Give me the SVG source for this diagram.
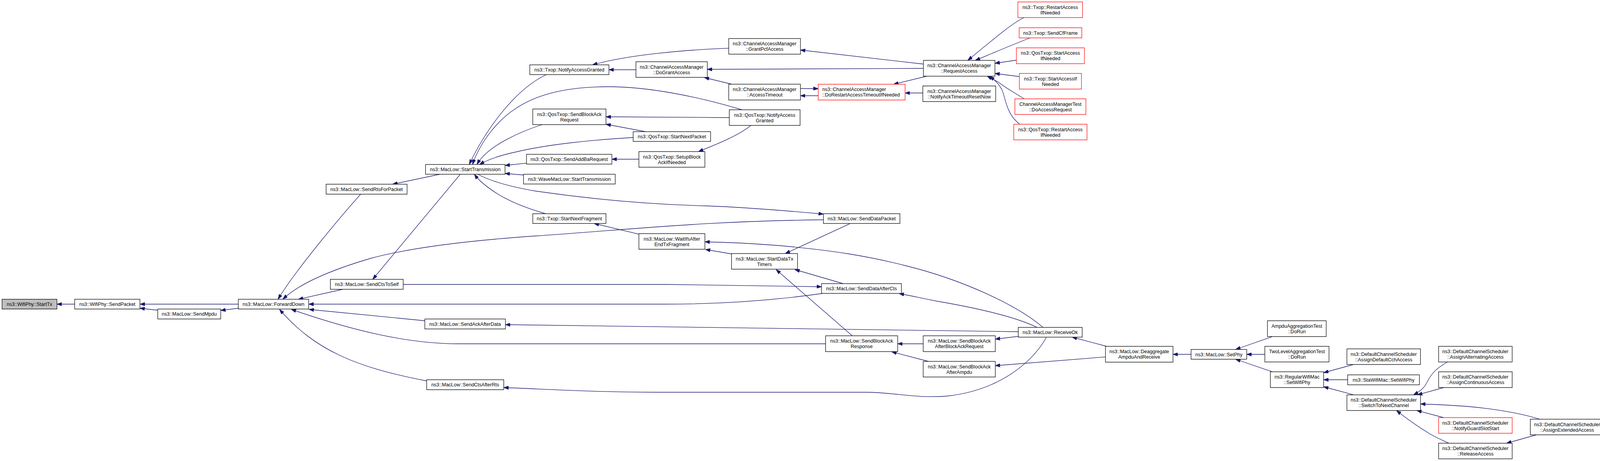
<svg xmlns="http://www.w3.org/2000/svg" width="4344" height="1180" viewBox="0 0 4344 1180">
<style>
.n rect{fill:#fff;stroke:#000;stroke-width:1.3}
.n.r rect{stroke:#f00}
.n.g rect{fill:#bfbfbf}
text{font-family:"Liberation Sans",Arial,sans-serif;font-size:13.2px;text-anchor:middle;fill:#000}
text.l{text-anchor:start}
#edges path{fill:none;stroke:#191970;stroke-width:1.3;marker-end:url(#a)}
</style>
<defs>
<marker id="a" markerUnits="userSpaceOnUse" viewBox="0 0 13 9" markerWidth="13" markerHeight="9" refX="13" refY="4.5" orient="auto">
<path d="M0,0 L13,4.5 L0,9 z" fill="#191970" stroke="#191970" stroke-width="1"/>
</marker>
</defs>
<rect width="4344" height="1180" fill="#fff"/>
<g id="graph" transform="scale(0.9465,1)">
<g id="edges">
<path d="M202,778.5 L154,778.5"/>
<path d="M644.5,778.5 L378.6,778.5"/>
<path d="M426.6,794 L378.6,789"/>
<path d="M644.5,789 L597,794.5"/>
<path d="M975.6,497 C930,545 800,690 752,766"/>
<path d="M1190,446 L1062,471.5"/>
<path d="M1245,446 L1008,715"/>
<path d="M927,740.5 L807,766"/>
<path d="M2227,562.5 C1900,566 1700,588 1448,604 C1250,617 1100,636 1000,662 C900,690 810,725 765,766"/>
<path d="M2225,751 C2100,768 1950,778.5 1800,778.5 L835,778.5"/>
<path d="M1149,821 L836,792"/>
<path d="M2233,880 L1240,880 C1100,880 950,845 788,792"/>
<path d="M1154,975 C960,940 850,895 756,792"/>
<path d="M1090.6,728 L1800,728 C1950,729 2100,731 2222,734"/>
<path d="M2754,849 L1367,831"/>
<path d="M2830,864 C2790,930 2700,1000 2560,1014 C2470,1020 2420,1004 2340,1004 L1780,1004 C1600,1004 1480,996 1362.5,992"/>
<path d="M2821,838 C2750,780 2600,715 2449,680 C2350,656 2250,640 2100,628 C2030,623 1960,620 1906.5,619"/>
<path d="M2805,838 C2740,808 2620,785 2541,772 C2500,765 2465,757 2432,751.5"/>
<path d="M2299,572.3 L2124,649"/>
<path d="M2280.5,726 L2150,690"/>
<path d="M2304.5,859 L2099,690"/>
<path d="M1978.5,650 L1908,638.5"/>
<path d="M1728,599.4 L1607,572"/>
<path d="M2990,913.6 L2692,936"/>
<path d="M2993,886.5 L2900,863"/>
<path d="M2754,861 L2692,868"/>
<path d="M2497,880 L2428,880"/>
<path d="M2511,925 L2412,900.5"/>
<path d="M3221.5,907 L3172.6,907"/>
<path d="M3441,861.7 L3342,894.5"/>
<path d="M3421,907 L3372,907"/>
<path d="M3441,951.6 L3342,919.5"/>
<path d="M3660.6,933 L3580,954"/>
<path d="M3645,972 L3580,972"/>
<path d="M3661.5,1010.7 L3580,990"/>
<path d="M3914,927 C3885,943 3872,955 3860,978 C3850,996 3840,1002 3823,1010.7"/>
<path d="M3905,992 L3834,1010.7"/>
<path d="M4165,1073 C4120,1060 4060,1048 3966,1040 C3920,1037 3880,1035 3842,1034"/>
<path d="M3905,1069 L3832,1050.7"/>
<path d="M3918.7,1134.5 C3895,1124 3880,1118 3864.7,1109 C3830,1089 3800,1068 3777,1050.7"/>
<path d="M4155.6,1113 L4074.8,1134.5"/>
<path d="M2770,45 C2740,58 2700,90 2617.5,154.5"/>
<path d="M2786,97 C2750,110 2700,130 2638,154.5"/>
<path d="M2749,154 L2691,162"/>
<path d="M2757,196 L2691,188"/>
<path d="M2770,253 C2740,235 2720,225 2700,210 C2690,205 2680,200 2670,195"/>
<path d="M2758,318 C2720,290 2720,250 2710,230 C2700,212 2690,205 2677,195"/>
<path d="M2497.5,164 L2165,128"/>
<path d="M2497.5,175 L1913,177.5"/>
<path d="M2507,195 L2417,215.6"/>
<path d="M2496,238 L2448,238"/>
<path d="M2165,226.5 L2213,227"/>
<path d="M2213,245 L2165,245"/>
<path d="M1979,215.5 L1905,198.5"/>
<path d="M1971,123.4 C1850,128 1700,140 1602.7,166"/>
<path d="M1720,178.5 L1647,178.5"/>
<path d="M1972.5,301 L1639,299"/>
<path d="M1746,337 L1639,318"/>
<path d="M2031,321 C2000,345 1950,365 1889,388"/>
<path d="M1728,407.5 L1655,407.5"/>
<path d="M1478,191 C1400,225 1320,320 1269,421"/>
<path d="M2007,281 C1880,245 1750,222 1646,222 C1530,222 1450,242 1393,279 C1350,305 1300,360 1278,421"/>
<path d="M1466.5,319 C1420,333 1320,370 1290,421"/>
<path d="M1712.5,352 C1600,358 1480,370 1400,388 C1350,398 1320,408 1297,421"/>
<path d="M1424,417.7 L1366,423.5"/>
<path d="M1416,448 L1366,444"/>
<path d="M1475.7,547 C1440,537 1390,522 1347,497 C1315,478 1295,462 1283,446"/>
<path d="M1292,446 C1330,465 1380,478 1448,489 C1600,510 1750,523 1910,527 C2000,530 2100,537 2227,548"/>
</g>
<g id="StartTx" class="n g"><rect x="5.5" y="766" width="148.5" height="25"/><text x="79.75" y="783.2">ns3::WifiPhy::StartTx</text></g>
<g id="SendPacket" class="n"><rect x="202" y="766" width="176.6" height="25"/><text x="290.3" y="783.2">ns3::WifiPhy::SendPacket</text></g>
<g id="SendMpdu" class="n"><rect x="426.6" y="791" width="170.4" height="25.5"/><text x="511.8" y="808.4">ns3::MacLow::SendMpdu</text></g>
<g id="ForwardDown" class="n"><rect x="644.5" y="766" width="190.5" height="25"/><text x="739.75" y="783.2">ns3::MacLow::ForwardDown</text></g>
<g id="SendRtsForPacket" class="n"><rect x="882" y="471.5" width="219" height="25.5"/><text x="991.5" y="489">ns3::MacLow::SendRtsForPacket</text></g>
<g id="SendCtsToSelf" class="n"><rect x="893.5" y="715" width="197" height="25.5"/><text x="992" y="732.5">ns3::MacLow::SendCtsToSelf</text></g>
<g id="SendAckAfterData" class="n"><rect x="1149" y="816.5" width="218" height="25.5"/><text x="1258" y="834">ns3::MacLow::SendAckAfterData</text></g>
<g id="SendCtsAfterRts" class="n"><rect x="1154" y="972" width="208.5" height="25.5"/><text x="1258.25" y="989.5">ns3::MacLow::SendCtsAfterRts</text></g>
<g id="StartTransmission" class="n"><rect x="1151" y="421" width="215" height="25"/><text x="1258.5" y="438.2">ns3::MacLow::StartTransmission</text></g>
<g id="TxopNotifyAccessGranted" class="n"><rect x="1433" y="166" width="214" height="25"/><text x="1540" y="183.2">ns3::Txop::NotifyAccessGranted</text></g>
<g id="SendBlockAckRequest" class="n"><rect x="1441" y="279" width="198" height="40"/><text x="1540" y="296.7">ns3::QosTxop::SendBlockAck</text><text x="1540" y="310.7">Request</text></g>
<g id="SendAddBaRequest" class="n"><rect x="1424" y="395" width="231" height="25"/><text x="1539.5" y="412.2">ns3::QosTxop::SendAddBaRequest</text></g>
<g id="WaveStartTransmission" class="n"><rect x="1416" y="446" width="248" height="25"/><text x="1540" y="463.2">ns3::WaveMacLow::StartTransmission</text></g>
<g id="StartNextFragment" class="n"><rect x="1441" y="547" width="198" height="25"/><text x="1540" y="564.2">ns3::Txop::StartNextFragment</text></g>
<g id="DoGrantAccess" class="n"><rect x="1720" y="158" width="193" height="40"/><text x="1816.5" y="175.7">ns3::ChannelAccessManager</text><text x="1816.5" y="189.7">::DoGrantAccess</text></g>
<g id="StartNextPacket" class="n"><rect x="1712.5" y="337" width="209.5" height="25"/><text x="1817.25" y="354.2">ns3::QosTxop::StartNextPacket</text></g>
<g id="SetupBlockAckIfNeeded" class="n"><rect x="1728" y="388" width="178.5" height="40"/><text x="1817.25" y="405.7">ns3::QosTxop::SetupBlock</text><text x="1817.25" y="419.7">AckIfNeeded</text></g>
<g id="WaitIfsAfterEndTxFragment" class="n"><rect x="1728" y="598" width="178.5" height="40"/><text x="1817.25" y="615.7">ns3::MacLow::WaitIfsAfter</text><text x="1817.25" y="629.7">EndTxFragment</text></g>
<g id="GrantPcfAccess" class="n"><rect x="1971" y="98.6" width="194" height="40"/><text x="2068" y="116.3">ns3::ChannelAccessManager</text><text x="2068" y="130.3">::GrantPcfAccess</text></g>
<g id="AccessTimeout" class="n"><rect x="1971" y="215.5" width="194" height="40.5"/><text x="2068" y="233.4">ns3::ChannelAccessManager</text><text x="2068" y="247.4">::AccessTimeout</text></g>
<g id="QosNotifyAccessGranted" class="n"><rect x="1972.5" y="281" width="191.5" height="40"/><text x="2068.25" y="298.7">ns3::QosTxop::NotifyAccess</text><text x="2068.25" y="312.7">Granted</text></g>
<g id="StartDataTxTimers" class="n"><rect x="1978.5" y="649" width="178.5" height="40"/><text x="2067.75" y="666.7">ns3::MacLow::StartDataTx</text><text x="2067.75" y="680.7">Timers</text></g>
<g id="DoRestartAccessTimeoutIfNeeded" class="n r"><rect x="2213" y="215.6" width="235" height="40.4"/><text class="l" x="2224" y="233.5">ns3::ChannelAccessManager</text><text class="l" x="2224" y="247.5">::DoRestartAccessTimeoutIfNeeded</text></g>
<g id="NotifyAckTimeoutResetNow" class="n"><rect x="2496" y="220" width="197" height="40"/><text x="2594.5" y="237.7">ns3::ChannelAccessManager</text><text x="2594.5" y="251.7">::NotifyAckTimeoutResetNow</text></g>
<g id="RequestAccess" class="n"><rect x="2497.5" y="154.5" width="193.5" height="40.5"/><text x="2594.25" y="172.4">ns3::ChannelAccessManager</text><text x="2594.25" y="186.4">::RequestAccess</text></g>
<g id="SendDataPacket" class="n"><rect x="2227" y="547" width="207" height="25"/><text x="2330.5" y="564.2">ns3::MacLow::SendDataPacket</text></g>
<g id="SendDataAfterCts" class="n"><rect x="2222" y="726" width="216" height="25"/><text x="2330" y="743.2">ns3::MacLow::SendDataAfterCts</text></g>
<g id="SendBlockAckResponse" class="n"><rect x="2233" y="859.5" width="195" height="40.5"/><text x="2330.5" y="877.4">ns3::MacLow::SendBlockAck</text><text x="2330.5" y="891.4">Response</text></g>
<g id="SendBlockAckAfterBlockAckRequest" class="n"><rect x="2497" y="859.5" width="195" height="40.5"/><text x="2594.5" y="877.4">ns3::MacLow::SendBlockAck</text><text x="2594.5" y="891.4">AfterBlockAckRequest</text></g>
<g id="SendBlockAckAfterAmpdu" class="n"><rect x="2497" y="925" width="195" height="40"/><text x="2594.5" y="942.7">ns3::MacLow::SendBlockAck</text><text x="2594.5" y="956.7">AfterAmpdu</text></g>
<g id="ReceiveOk" class="n"><rect x="2754" y="838" width="173" height="25"/><text x="2840.5" y="855.2">ns3::MacLow::ReceiveOk</text></g>
<g id="TxopRestartAccessIfNeeded" class="n r"><rect x="2753" y="5" width="175" height="40"/><text x="2840.5" y="22.7">ns3::Txop::RestartAccess</text><text x="2840.5" y="36.7">IfNeeded</text></g>
<g id="TxopSendCfFrame" class="n r"><rect x="2756.5" y="71" width="169.5" height="26"/><text x="2841.25" y="88.7">ns3::Txop::SendCfFrame</text></g>
<g id="QosStartAccessIfNeeded" class="n r"><rect x="2749" y="122.5" width="184" height="40.5"/><text x="2841" y="140.4">ns3::QosTxop::StartAccess</text><text x="2841" y="154.4">IfNeeded</text></g>
<g id="TxopStartAccessIfNeeded" class="n r"><rect x="2757" y="188" width="168" height="40"/><text x="2841" y="205.7">ns3::Txop::StartAccessIf</text><text x="2841" y="219.7">Needed</text></g>
<g id="DoAccessRequest" class="n r"><rect x="2745" y="253" width="192" height="40"/><text x="2841" y="270.7">ChannelAccessManagerTest</text><text x="2841" y="284.7">::DoAccessRequest</text></g>
<g id="QosRestartAccessIfNeeded" class="n r"><rect x="2742" y="318" width="198" height="40"/><text x="2841" y="335.7">ns3::QosTxop::RestartAccess</text><text x="2841" y="349.7">IfNeeded</text></g>
<g id="DeaggregateAmpduAndReceive" class="n"><rect x="2990" y="886.5" width="182.6" height="40.5"/><text x="3081.3" y="904.4">ns3::MacLow::Deaggregate</text><text x="3081.3" y="918.4">AmpduAndReceive</text></g>
<g id="SetPhy" class="n"><rect x="3221.5" y="894.5" width="150.5" height="25"/><text x="3296.75" y="911.7">ns3::MacLow::SetPhy</text></g>
<g id="AmpduAggregationTest" class="n"><rect x="3428" y="821" width="159" height="40.5"/><text x="3507.5" y="838.9">AmpduAggregationTest</text><text x="3507.5" y="852.9">::DoRun</text></g>
<g id="TwoLevelAggregationTest" class="n"><rect x="3421" y="886.5" width="173.6" height="40"/><text x="3507.8" y="904.2">TwoLevelAggregationTest</text><text x="3507.8" y="918.2">::DoRun</text></g>
<g id="RegularWifiMacSetWifiPhy" class="n"><rect x="3436" y="951.6" width="144" height="40.4"/><text x="3508" y="969.5">ns3::RegularWifiMac</text><text x="3508" y="983.5">::SetWifiPhy</text></g>
<g id="AssignDefaultCchAccess" class="n"><rect x="3643" y="893" width="199" height="40"/><text x="3742.5" y="910.7">ns3::DefaultChannelScheduler</text><text x="3742.5" y="924.7">::AssignDefaultCchAccess</text></g>
<g id="StaWifiMacSetWifiPhy" class="n"><rect x="3645" y="959.5" width="194" height="25.5"/><text x="3742" y="977">ns3::StaWifiMac::SetWifiPhy</text></g>
<g id="SwitchToNextChannel" class="n"><rect x="3643" y="1010.7" width="199" height="40"/><text x="3742.5" y="1028.4">ns3::DefaultChannelScheduler</text><text x="3742.5" y="1042.4">::SwitchToNextChannel</text></g>
<g id="AssignAlternatingAccess" class="n"><rect x="3891" y="886.5" width="199" height="40"/><text x="3990.5" y="904.2">ns3::DefaultChannelScheduler</text><text x="3990.5" y="918.2">::AssignAlternatingAccess</text></g>
<g id="AssignContinuousAccess" class="n"><rect x="3891" y="951.6" width="199" height="40.4"/><text x="3990.5" y="969.5">ns3::DefaultChannelScheduler</text><text x="3990.5" y="983.5">::AssignContinuousAccess</text></g>
<g id="NotifyGuardSlotStart" class="n r"><rect x="3891" y="1069" width="199" height="40"/><text x="3990.5" y="1086.7">ns3::DefaultChannelScheduler</text><text x="3990.5" y="1100.7">::NotifyGuardSlotStart</text></g>
<g id="ReleaseAccess" class="n"><rect x="3891" y="1134.5" width="199" height="40"/><text x="3990.5" y="1152.2">ns3::DefaultChannelScheduler</text><text x="3990.5" y="1166.2">::ReleaseAccess</text></g>
<g id="AssignExtendedAccess" class="n"><rect x="4139" y="1073" width="199" height="40"/><text x="4238.5" y="1090.7">ns3::DefaultChannelScheduler</text><text x="4238.5" y="1104.7">::AssignExtendedAccess</text></g>
</g>
</svg>
